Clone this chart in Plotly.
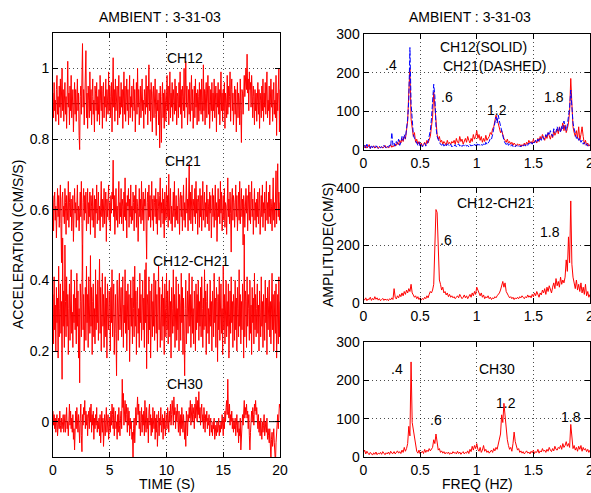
import numpy as np
import plotly.graph_objects as go

# ---------------- DATA ----------------
# Time-series deviations from each trace's baseline, in 0.001 CM/S/S, sampled over 0..20 s
ch12_dev = [
 30,-40,60,-20,10,-50,40,80,-30,20,-60,50,-10,70,-40,30,100,-20,40,-50,
 10,60,-30,20,-70,40,120,-10,30,-60,50,-20,80,-40,10,40,-80,20,60,-30,
 40,-50,10,70,-20,30,-90,-130,20,50,-30,60,170,-10,40,-60,20,80,150,-40,
 30,-70,50,10,-40,90,-20,40,-60,20,70,-30,10,-80,50,30,-20,60,-50,20,
 -30,40,-60,80,10,-20,50,-70,30,60,-40,20,-10,70,-50,40,10,-30,90,-20,
 50,-40,20,60,-80,30,130,-10,40,-50,70,-20,30,50,-60,10,80,-40,20,-30,
 60,-10,40,-70,20,90,-30,50,-50,10,70,-20,40,-60,30,80,-40,20,-10,50,
 -50,30,70,-20,40,-80,10,60,-30,100,-10,40,-60,20,50,-40,30,70,-20,10,
 -70,40,20,-30,80,-10,50,-60,30,110,-20,40,-50,60,10,-80,30,50,-40,20,
 70,-30,-90,40,-20,10,-60,30,-125,50,-30,-110,20,60,-40,30,-70,40,10,-50,
 30,80,-20,50,-60,20,90,-40,30,-10,60,-50,40,10,-30,70,-20,50,-60,30,
 20,-40,60,-10,90,-30,40,-70,50,20,-20,100,-40,30,120,-10,50,-60,20,40,
 -30,60,-50,20,80,-20,40,-70,10,50,-40,70,-10,30,-60,40,20,-50,60,-20,
 40,-30,70,10,-50,110,-20,40,-60,30,60,-40,20,80,-30,50,-70,10,40,-20,
 60,-50,30,-20,70,-40,10,50,-80,30,-10,60,-30,40,-60,20,90,-20,30,-50,
 40,-20,60,-70,30,10,-40,80,-30,50,-10,20,90,-50,40,70,-20,30,-60,20,
 50,-30,40,-80,20,60,-40,30,10,-60,70,-20,-110,40,30,-30,60,80,20,50,
 100,40,140,30,70,-20,90,40,60,-10,80,30,-40,50,20,-60,40,-20,30,-50,
 20,60,-30,40,-70,30,10,-40,50,-20,70,-50,30,-10,60,-30,20,90,-40,10,
 -20,50,-60,30,70,-10,40,-50,20,60,-30,10,-40,80,-90,30,-20,50,100,-80,
 40]
ch21_dev = [
 40,-60,20,50,-30,10,-80,30,60,-20,40,-50,20,70,-40,-150,30,50,-20,10,
 -40,60,20,-70,40,10,-30,80,-50,20,50,-20,30,-60,10,40,-90,30,60,-10,
 20,-50,40,70,-30,10,-60,30,50,-20,80,-40,-170,20,60,-30,40,-10,50,-60,
 30,60,-40,20,-20,50,-70,40,10,-30,60,-50,20,40,-80,30,-10,70,-40,20,
 50,-30,10,-60,40,80,-20,30,-50,20,60,-40,10,50,-90,30,-20,40,70,-30,
 20,-60,40,-10,50,30,140,-20,40,-70,20,60,-30,10,-50,40,80,-40,20,-20,
 60,-40,30,10,-60,50,-20,90,-30,20,-80,40,10,60,-50,30,-20,70,-40,10,
 -30,50,20,-60,40,-10,70,-50,30,10,-90,40,60,-20,30,-40,80,-30,20,50,
 -60,30,10,60,-40,-140,20,50,-30,70,-20,40,-50,10,80,-30,30,-60,40,20,
 -20,60,-40,30,-70,50,10,-30,40,90,-50,20,-10,60,-40,30,-80,50,10,-30,
 70,-20,40,-50,100,-30,20,60,-40,10,-60,30,50,-20,80,-50,20,40,-30,10,
 -40,60,20,-70,30,50,-20,40,-60,10,70,-30,20,-50,40,90,-10,30,-60,20,
 130,-30,50,-40,20,70,-60,30,10,-20,60,-40,80,-10,30,-70,40,20,-50,60,
 -20,40,-60,30,80,-30,10,50,-50,20,-20,70,-40,30,10,-60,50,-10,40,-80,
 30,60,-20,40,-50,10,70,-30,20,-90,40,60,-20,30,-40,80,-10,50,-60,20,
 40,-30,60,-50,20,10,-70,40,90,-20,30,-40,50,-10,-120,30,60,-30,40,20,
 -50,30,70,-20,40,-60,10,50,-30,80,-40,20,60,-20,30,-100,40,10,-50,30,
 60,-10,40,-60,20,70,-30,50,-40,10,80,-20,30,-70,40,60,-30,20,-50,30,
 -20,50,-40,10,60,-70,30,40,-20,70,-50,20,-10,50,-60,30,80,-30,20,-40,
 50,-20,70,-40,30,10,-60,40,90,-30,20,-50,60,110,-40,80,130,-20,50,-30,
 20]
diff_dev = [
 60,-80,110,-40,30,-100,80,-20,50,-120,140,-60,20,90,-50,40,-180,220,-30,70,
 -90,200,40,-60,110,-30,60,-110,20,90,-70,30,130,-50,10,-90,60,-20,100,-40,
 50,-80,120,-30,70,-120,20,-190,90,40,-60,110,200,-40,60,-100,30,80,-70,140,
 -20,60,-90,110,30,-50,170,-30,80,-110,40,90,-60,20,-80,130,-40,60,-20,100,
 -70,30,160,-50,80,-100,40,120,-30,60,-90,20,110,-60,50,-120,90,10,-40,70,
 30,-100,80,-20,130,-60,40,90,-110,20,60,-50,-170,100,30,-70,50,120,-40,10,
 80,-60,40,110,-90,30,-20,130,-50,70,-100,20,90,-40,60,-130,40,100,-30,50,
 -80,110,20,-60,140,-30,70,-110,40,80,-50,20,-90,120,-20,60,-70,30,100,-40,
 50,-90,130,-20,150,-150,60,30,-80,110,-40,70,-120,20,90,-60,40,-30,120,-70,
 30,100,-50,60,-100,20,140,-40,80,-90,30,60,-70,110,-30,50,-110,90,20,-60,
 120,-40,70,-80,30,100,-60,40,-120,80,20,-50,130,-30,60,-90,40,110,-70,20,
 -40,90,-100,60,30,-70,120,-20,80,-110,50,-60,-170,20,100,-80,40,70,-50,30,
 120,-30,60,-90,40,110,-50,20,-80,70,30,-100,90,-40,60,-20,100,-70,40,-30,
 80,-60,110,20,-90,50,-40,130,-30,70,-110,40,90,-50,20,-80,60,100,-30,40,
 -100,70,30,-60,120,-20,50,-90,80,40,-130,60,-40,110,-70,30,90,-50,20,-110,
 140,-40,60,-80,30,100,-60,40,-30,90,-120,20,70,-50,110,-20,40,-90,60,30,
 -70,100,-40,50,-100,80,20,-60,130,-30,60,-80,40,-40,90,30,-120,230,-60,70,
 40,-90,110,-30,60,20,-70,100,-50,30,-110,80,-20,50,-80,120,-40,60,-60,20,
 90,-50,30,-100,70,10,-60,110,-30,40,-90,60,20,-70,100,-20,50,-110,80,-40,
 30,100,-60,40,-80,20,120,-40,60,-100,30,70,-50,90,-120,40,60,-80,110,-60,
 40]
ch30_dev = [
 30,-10,20,-20,10,-30,0,20,-40,-10,10,-20,30,-10,-30,10,-20,0,20,-30,
 -10,20,-30,10,40,-20,0,-40,20,50,-10,30,-20,10,-30,20,-50,-20,-80,10,
 30,-20,40,0,-30,20,-10,-60,10,50,-40,-85,20,-10,40,20,60,-20,30,-10,
 20,-40,10,30,-20,40,0,50,-30,20,-10,30,-50,10,-20,20,-10,40,-30,0,
 -20,10,-40,20,-60,0,30,-30,10,-70,-20,20,-40,10,40,-30,-10,20,-50,0,
 10,-30,30,-10,50,20,-20,40,-40,10,30,-20,0,-50,20,-30,40,-10,-40,10,
 30,-20,120,40,80,-10,30,60,0,50,20,-30,40,-10,30,-40,10,-20,0,-50,
 -30,-110,-20,10,-60,20,40,-10,30,70,20,50,-20,30,-40,10,40,-30,20,-10,
 30,-40,60,0,-30,40,-20,10,-60,30,50,-10,20,-40,10,-30,40,0,-20,30,
 -50,10,-30,20,-70,-20,30,-40,10,-10,40,-30,0,20,-50,10,-20,30,-40,0,
 20,-20,40,10,-30,30,0,50,-10,20,60,30,-10,70,20,40,-20,30,0,50,
 10,-30,30,0,-40,20,-20,40,10,-30,20,-10,-50,0,-70,30,10,-40,20,0,
 40,10,60,-10,30,50,0,40,20,-20,50,10,70,30,0,60,20,85,10,40,
 -10,30,50,0,20,-20,40,10,-30,20,0,30,-20,10,-10,20,-40,0,10,-30,
 -10,-40,0,-20,10,-50,-20,-10,-40,0,-30,-20,10,-40,-10,-30,0,-20,20,-10,
 -40,10,-20,30,0,40,60,20,120,30,10,50,-10,20,0,30,-20,10,-30,0,
 -20,10,-40,-10,20,-30,0,-60,-20,-40,10,-80,-30,0,20,-10,30,60,10,40,
 20,50,10,30,-20,20,-40,-80,-30,10,30,0,40,20,-10,50,30,60,20,40,
 10,-20,20,-30,0,-40,10,-20,-50,0,-30,-10,20,-40,-20,0,-30,10,-50,-20,
 -40,-60,-20,-80,-110,-50,-30,-70,-40,-20,-60,-90,-120,-60,-30,-10,20,-20,30,50,
 40]
trace_names = ["CH12", "CH21", "CH12-CH21", "CH30"]
trace_offsets = [0.9, 0.6, 0.3, 0.0]

# Fourier amplitude spectra (CM/S) over 0..2 Hz
amp_ch12 = [
 10,6,12,5,8,14,4,9,6,11,5,7,10,4,8,6,9,5,7,12,
 6,9,5,8,14,7,11,9,16,12,20,14,25,18,30,22,35,28,50,75,
 150,210,80,60,35,45,20,28,15,22,12,18,10,14,20,12,25,18,30,35,
 60,85,150,110,55,40,28,35,20,25,15,22,18,12,25,16,20,14,22,18,
 25,15,30,20,18,35,22,28,15,25,30,20,35,25,18,30,22,40,28,35,
 50,30,40,25,35,20,30,22,38,25,30,35,45,40,55,60,75,90,80,70,
 60,45,50,35,30,25,20,28,18,22,15,20,12,18,14,10,16,12,15,9,
 14,10,18,12,20,15,25,18,22,16,28,20,25,18,30,22,35,28,40,32,
 25,38,30,45,35,28,40,32,50,38,45,55,42,60,48,55,70,50,65,45,
 55,70,100,185,120,60,45,35,50,30,60,25,40,60,35,15,25,12,18,10,
 14]
amp_ch21 = [
 8,12,5,15,7,10,4,13,6,9,5,11,7,4,10,6,8,5,12,7,
 5,10,7,13,9,45,12,18,10,22,15,28,12,20,35,25,40,30,60,80,
 130,265,120,70,40,30,25,18,12,20,10,15,8,12,18,10,14,22,35,50,
 80,120,170,140,60,35,25,20,15,12,18,10,14,9,16,12,10,15,8,12,
 10,14,8,12,16,10,14,9,13,11,15,10,12,8,14,10,13,9,15,11,
 18,12,15,10,14,12,16,11,20,14,18,22,30,28,40,55,70,85,70,90,
 75,60,45,30,25,18,14,20,12,16,10,14,9,12,8,13,10,7,11,8,
 12,9,14,10,16,12,18,14,20,15,22,18,25,20,28,22,30,25,35,28,
 30,40,33,45,38,50,42,35,55,45,48,60,50,58,45,62,55,75,60,50,
 65,90,110,155,100,70,55,40,30,35,25,30,20,25,15,20,12,16,10,14,
 12]
amp_diff = [
 15,10,18,8,14,12,20,9,16,11,22,13,18,10,15,8,12,16,9,14,
 10,13,8,15,11,18,12,50,20,14,25,18,30,22,35,25,40,30,45,35,
 50,40,65,35,28,20,25,15,22,12,18,10,16,12,20,15,25,18,30,40,
 35,45,65,180,325,315,140,80,65,45,55,35,40,28,35,22,30,20,25,18,
 22,15,20,25,18,30,22,15,20,28,18,25,15,22,30,20,35,25,40,30,
 55,45,30,25,35,20,28,15,22,18,25,15,20,12,18,15,22,18,25,30,
 35,45,60,75,55,70,40,30,25,18,22,15,20,12,18,14,20,15,22,18,
 25,20,15,22,18,28,20,25,18,30,22,35,25,40,30,20,35,28,45,35,
 50,30,55,40,60,45,35,55,70,50,85,60,75,55,90,65,80,70,90,150,
 110,230,140,355,135,90,70,50,80,45,65,40,70,35,55,30,65,25,40,20,
 30]
amp_ch30 = [
 12,18,8,15,10,6,12,9,5,11,7,13,6,10,8,12,7,14,9,6,
 11,8,13,7,15,10,9,14,8,12,16,10,14,9,18,12,25,15,22,35,
 80,55,248,90,70,45,25,15,10,18,8,12,15,9,20,12,18,14,22,16,
 20,25,45,35,60,30,18,22,12,16,10,14,8,12,9,13,7,11,8,14,
 10,12,8,15,9,13,7,11,14,8,12,10,16,9,20,14,28,18,30,22,
 35,20,15,25,12,18,30,15,20,12,16,10,14,18,12,22,16,25,20,35,
 45,60,110,90,140,110,70,45,30,20,25,15,35,65,40,25,18,22,12,16,
 10,14,8,12,16,10,13,8,15,11,18,9,14,12,20,10,16,13,22,15,
 18,12,20,15,25,18,14,22,16,28,20,18,25,22,30,20,35,25,30,40,
 28,35,25,85,40,22,30,18,25,15,28,20,30,15,25,18,22,14,20,12,
 18]

time_ticks = [0, 5, 10, 15, 20]
acc_ticks = [0, 0.2, 0.4, 0.6, 0.8, 1]
freq_ticks = [0, 0.5, 1, 1.5, 2]

# ---------------- FIGURE ----------------
W, H = 591, 493
FONT = "Liberation Sans, Arial, Helvetica, sans-serif"
RED = "#ff0000"
BLUE = "#0000ff"

def px_x(p):
    return p / W

def px_y(p):
    return 1 - p / H

fig = go.Figure()

series = [ch12_dev, ch21_dev, diff_dev, ch30_dev]
for name, off, dev in zip(trace_names, trace_offsets, series):
    d = np.array(dev) / 1000.0
    t = np.linspace(0, 20, len(d))
    fig.add_trace(go.Scatter(x=t, y=off + d, mode="lines", name=name,
                             line=dict(color=RED, width=1), xaxis="x", yaxis="y"))

def spec(vals, color, ax, dash="solid"):
    f = np.linspace(0, 2, len(vals))
    fig.add_trace(go.Scatter(x=f, y=vals, mode="lines",
                             line=dict(color=color, width=1, dash=dash),
                             xaxis="x" + ax, yaxis="y" + ax))

spec(amp_ch12, RED, "2")
spec(amp_ch21, BLUE, "2", dash="5px,2px")
spec(amp_diff, RED, "3")
spec(amp_ch30, RED, "4")

axis_common = dict(showline=True, linecolor="black", linewidth=1, mirror="ticks",
                   ticks="inside", ticklen=5, tickcolor="black", automargin=False,
                   ticklabeloverflow="allow",
                   showgrid=True, gridcolor="rgba(0,0,0,0.7)", gridwidth=1, griddash="1px,3px",
                   zeroline=False, tickfont=dict(family=FONT, size=14, color="black"))

xl = [px_x(53), px_x(280)]
xr = [px_x(363.5), px_x(590)]

fig.update_layout(
    width=W, height=H, margin=dict(l=0, r=0, t=0, b=0, autoexpand=False),
    paper_bgcolor="white", plot_bgcolor="white", showlegend=False,
    xaxis=dict(domain=xl, range=[0, 20], tickvals=time_ticks, anchor="y", **axis_common),
    yaxis=dict(domain=[px_y(457), px_y(33)], range=[-0.1, 1.1], tickvals=acc_ticks,
               anchor="x", **axis_common),
    xaxis2=dict(domain=xr, range=[0, 2], tickvals=freq_ticks, anchor="y2", **axis_common),
    yaxis2=dict(domain=[px_y(150), px_y(34)], range=[0, 300], tickvals=[0, 100, 200, 300],
                anchor="x2", **axis_common),
    xaxis3=dict(domain=xr, range=[0, 2], tickvals=freq_ticks, anchor="y3", **axis_common),
    yaxis3=dict(domain=[px_y(303), px_y(188)], range=[0, 400], tickvals=[0, 200, 400],
                anchor="x3", **axis_common),
    xaxis4=dict(domain=xr, range=[0, 2], tickvals=freq_ticks, anchor="y4", **axis_common),
    yaxis4=dict(domain=[px_y(457), px_y(342)], range=[0, 300], tickvals=[0, 100, 200, 300],
                anchor="x4", **axis_common),
)

# baseline dashed lines for each trace
for off in trace_offsets:
    fig.add_shape(type="line", xref="x domain", yref="y", x0=0, x1=1, y0=off, y1=off,
                  line=dict(color="black", width=1, dash="dashdot"), layer="below")

txt = dict(family=FONT, size=14, color="black")
ann = []
def label(text, x, y, xref, yref, **kw):
    ann.append(dict(text=text, x=x, y=y, xref=xref, yref=yref, showarrow=False,
                    font=txt, xanchor="center", yanchor="middle", **kw))

# titles
label("AMBIENT : 3-31-03", px_x(159.5), px_y(17), "paper", "paper")
label("AMBIENT : 3-31-03", px_x(470), px_y(17), "paper", "paper")
label("ACCELERATION (CM/S/S)", px_x(18), px_y(245), "paper", "paper", textangle=-90)
label("AMPLITUDE(CM/S)", px_x(328), px_y(245), "paper", "paper", textangle=-90)
label("TIME (S)", px_x(166.5), px_y(484), "paper", "paper")
label("FREQ (HZ)", px_x(477.5), px_y(484), "paper", "paper")

# left trace labels
label("CH12", 11.6, 1.03, "x", "y")
label("CH21", 11.45, 0.737, "x", "y")
label("CH12-CH21", 12.2, 0.456, "x", "y")
label("CH30", 11.6, 0.108, "x", "y")

# top spectrum labels
label("CH12(SOLID)", 1.058, 266, "x2", "y2")
label("CH21(DASHED)", 1.153, 217, "x2", "y2")
label(".4", 0.24, 219, "x2", "y2")
label(".6", 0.74, 137, "x2", "y2")
label("1.2", 1.18, 103, "x2", "y2")
label("1.8", 1.68, 137, "x2", "y2")

# middle spectrum labels
label("CH12-CH21", 1.16, 348, "x3", "y3")
label(".6", 0.73, 219, "x3", "y3")
label("1.8", 1.65, 247, "x3", "y3")

# bottom spectrum labels
label(".4", 0.30, 230, "x4", "y4")
label(".6", 0.64, 97, "x4", "y4")
label("CH30", 1.18, 230, "x4", "y4")
label("1.2", 1.26, 141, "x4", "y4")
label("1.8", 1.83, 104, "x4", "y4")

fig.update_layout(annotations=ann)
fig.write_html("out.html", config={"displayModeBar": False},
               post_script="document.body.style.margin='0';document.body.style.padding='0';document.body.style.overflow='hidden';")
